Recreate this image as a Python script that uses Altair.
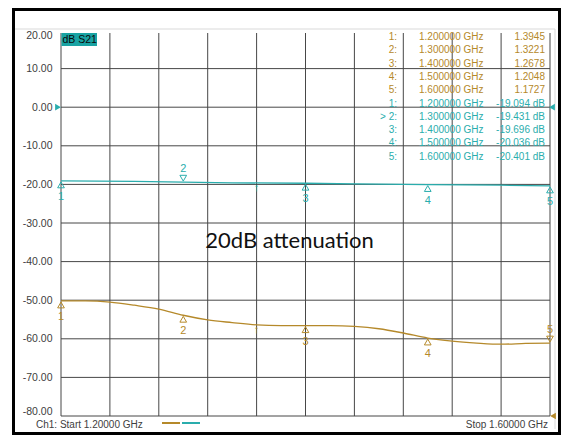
import altair as alt
import pandas as pd

BROWN = "#b5892a"
TEAL = "#2aadad"
GRID = "#474747"
TXT = "#404040"
FONT = "Liberation Sans"

# ---------------- data ----------------
grid_freq = [1.20, 1.24, 1.28, 1.32, 1.36, 1.40, 1.44, 1.48, 1.52, 1.56, 1.60]
tick_db = [20, 10, 0, -10, -20, -30, -40, -50, -60, -70, -80]
grid_db = [10, 0, -10, -20, -30, -40, -50, -60, -70, -80]

s21_freq = [1.20, 1.26, 1.30, 1.34, 1.40, 1.44, 1.50, 1.56, 1.60]
s21_db = [-19.09, -19.20, -19.43, -19.60, -19.70, -19.85, -20.04, -20.20, -20.40]

s11_freq = [1.20, 1.22, 1.24, 1.26, 1.28, 1.30, 1.32, 1.34, 1.36, 1.38, 1.40,
            1.42, 1.44, 1.46, 1.48, 1.50, 1.52, 1.54, 1.56, 1.58, 1.60]
s11_db = [-50.2, -50.2, -50.5, -51.3, -52.3, -53.9, -55.1, -55.8, -56.4, -56.6, -56.6,
          -56.6, -56.8, -57.4, -58.5, -59.8, -60.6, -61.1, -61.4, -61.2, -61.1]

marker_freq = [1.2, 1.3, 1.4, 1.5, 1.6]
marker_num = ["1", "2", "3", "4", "5"]
s11_marker_db = [-50.2, -53.9, -56.6, -59.8, -61.1]
s11_marker_dir = ["up", "up", "up", "up", "down"]
s11_swr = ["1.3945", "1.3221", "1.2678", "1.2048", "1.1727"]
s21_marker_db = [-19.094, -19.431, -19.696, -20.036, -20.401]
s21_marker_dir = ["up", "down", "up", "up", "up"]
s21_readout = ["-19.094 dB", "-19.431 dB", "-19.696 dB", "-20.036 dB", "-20.401 dB"]
marker_freq_text = ["1.200000 GHz", "1.300000 GHz", "1.400000 GHz", "1.500000 GHz", "1.600000 GHz"]
s21_labels = ["1:", "> 2:", "3:", "4:", "5:"]

delta_freq = 1.36
delta_db = [-19.6, -56.4]

W, H = 489, 386

x_scale = alt.Scale(domain=[1.2, 1.6], nice=False, zero=False)
y_scale = alt.Scale(domain=[-80, 20], nice=False, zero=False)
y_axis = alt.Axis(values=tick_db, grid=False, ticks=False, domain=False, title=None,
                  labelPadding=9, labelFlush=True, labelFont=FONT, labelFontSize=10.5,
                  labelColor=TXT, labelExpr="replace(format(datum.value, '.2f'), '\u2212', '-')")


def X(f):
    return alt.X(f, scale=x_scale, axis=None)


def Y(f):
    return alt.Y(f, scale=y_scale, axis=y_axis)


# grid
hgrid = alt.Chart(pd.DataFrame({"db": grid_db})).mark_rule(color=GRID, strokeWidth=1).encode(
    y=Y("db:Q"), x=alt.value(0), x2=alt.value(W))
vgrid = alt.Chart(pd.DataFrame({"freq": grid_freq})).mark_rule(color=GRID, strokeWidth=1).encode(
    x=X("freq:Q"), y=alt.value(3), y2=alt.value(H))

# traces
s21 = alt.Chart(pd.DataFrame({"freq": s21_freq, "db": s21_db})).mark_line(
    color=TEAL, strokeWidth=1.3).encode(x=X("freq:Q"), y=Y("db:Q"))
s11 = alt.Chart(pd.DataFrame({"freq": s11_freq, "db": s11_db})).mark_line(
    color=BROWN, strokeWidth=1.3, interpolate="monotone").encode(x=X("freq:Q"), y=Y("db:Q"))

# markers
mk = pd.DataFrame({
    "freq": marker_freq * 2,
    "db": s11_marker_db + s21_marker_db,
    "num": marker_num * 2,
    "dir": s11_marker_dir + s21_marker_dir,
    "color": [BROWN] * 5 + [TEAL] * 5,
})
mk_up = mk[mk["dir"] == "up"]
mk_dn = mk[mk["dir"] == "down"]
enc = dict(x=X("freq:Q"), y=Y("db:Q"), color=alt.Color("color:N", scale=None))
tri_up = alt.Chart(mk_up).mark_point(shape="triangle-up", filled=False, size=45, strokeWidth=1,
                                     opacity=1, yOffset=4).encode(**enc)
num_up = alt.Chart(mk_up).mark_text(dy=16, font=FONT, fontSize=11).encode(text="num:N", **enc)
tri_dn = alt.Chart(mk_dn).mark_point(shape="triangle-down", filled=False, size=45, strokeWidth=1,
                                     opacity=1, yOffset=-4).encode(**enc)
num_dn = alt.Chart(mk_dn).mark_text(dy=-13, font=FONT, fontSize=11).encode(text="num:N", **enc)

delta = alt.Chart(pd.DataFrame({"freq": [delta_freq] * 2, "db": delta_db, "color": [TEAL, BROWN]})
                  ).mark_text(text="\u2191", dy=5, font=FONT, fontSize=11).encode(**enc)

# reference level arrows
ref = pd.DataFrame({"db": [0, 0, -80], "color": [TEAL, TEAL, BROWN],
                    "shape": ["triangle-right", "triangle-left", "triangle-left"],
                    "px": [-3, 491, 492]})
ref_marks = alt.Chart(ref).mark_point(filled=True, size=45, opacity=1).encode(
    y=Y("db:Q"), x=alt.X("px:Q", scale=None),
    color=alt.Color("color:N", scale=None), shape=alt.Shape("shape:N", scale=None))

# marker readout table
rows_lab = ["1:", "2:", "3:", "4:", "5:"] + s21_labels
rows_freq = marker_freq_text * 2
rows_val = s11_swr + s21_readout
rows_col = [BROWN] * 5 + [TEAL] * 5
tbl = pd.DataFrame({"lab": rows_lab, "f": rows_freq, "v": rows_val, "color": rows_col,
                    "py": [7 + 13.3 * i for i in range(10)]})
tenc = dict(y=alt.Y("py:Q", scale=None), color=alt.Color("color:N", scale=None))
t_lab = alt.Chart(tbl).mark_text(align="right", baseline="middle", font=FONT, fontSize=10).encode(
    x=alt.value(336), text="lab:N", **tenc)
t_f = alt.Chart(tbl).mark_text(align="left", baseline="middle", font=FONT, fontSize=10).encode(
    x=alt.value(358), text="f:N", **tenc)
t_v = alt.Chart(tbl).mark_text(align="right", baseline="middle", font=FONT, fontSize=10).encode(
    x=alt.value(484), text="v:N", **tenc)

# trace title box
box = alt.Chart(pd.DataFrame({"t": ["dB S21"]})).mark_rect(color="#19a3a3").encode(
    x=alt.value(0.5), x2=alt.value(36), y=alt.value(3), y2=alt.value(16))
box_t = alt.Chart(pd.DataFrame({"t": ["dB S21"]})).mark_text(
    align="left", baseline="middle", font=FONT, fontSize=10.5, color="#0a0a0a").encode(
    x=alt.value(1.5), y=alt.value(10), text="t:N")

# footer
foot = pd.DataFrame({"t": ["Ch1: Start  1.20000 GHz", "Stop  1.60000 GHz"]})
foot_l = alt.Chart(foot.iloc[[0]]).mark_text(align="left", baseline="middle", font=FONT,
                                             fontSize=10, color=TXT).encode(
    x=alt.value(-25), y=alt.value(395), text="t:N")
foot_r = alt.Chart(foot.iloc[[1]]).mark_text(align="right", baseline="middle", font=FONT,
                                             fontSize=10, color=TXT).encode(
    x=alt.value(487), y=alt.value(395), text="t:N")
leg_b = alt.Chart(pd.DataFrame({"a": [1]})).mark_rule(color=BROWN, strokeWidth=2).encode(
    x=alt.value(101), x2=alt.value(119), y=alt.value(393))
leg_t = alt.Chart(pd.DataFrame({"a": [1]})).mark_rule(color=TEAL, strokeWidth=2).encode(
    x=alt.value(121), x2=alt.value(139), y=alt.value(393))

# annotation
note = alt.Chart(pd.DataFrame({"freq": [1.318], "db": [-36.5], "t": ["20dB attenuation"]})).mark_text(
    align="left", baseline="alphabetic", font="Lato", fontSize=22, color="#111111").encode(
    x=X("freq:Q"), y=Y("db:Q"), text="t:N")


# frame
def rule(x1, x2, y1, y2, color, w):
    return alt.Chart(pd.DataFrame({"a": [1]})).mark_rule(color=color, strokeWidth=w).encode(
        x=alt.value(x1), x2=alt.value(x2), y=alt.value(y1), y2=alt.value(y2))


frame = [
    rule(-46, 494, -1, -1, "#d9d9d9", 1),
    rule(494, 494, -1, 399, "#d9d9d9", 1),
    rule(-47.5, -47.5, -22, 405, "#000000", 3),
    rule(498.5, 498.5, -22, 405, "#000000", 3),
    rule(-47.5, 498.5, 403.5, 403.5, "#000000", 3),
    rule(-47.5, 498.5, -20.5, -20.5, "#000000", 3),
]

chart = alt.layer(
    hgrid, vgrid, *frame, box, box_t, t_lab, t_f, t_v, note,
    s21, s11, tri_up, num_up, tri_dn, num_dn, delta, ref_marks,
    foot_l, foot_r, leg_b, leg_t,
).properties(
    width=W, height=H,
    autosize=alt.AutoSizeParams(type="none"),
    padding={"left": 53, "top": 22, "right": 11, "bottom": 19},
    background="white",
).configure_view(stroke=None)

chart.save("out.html", embed_options={"renderer": "svg", "actions": False})
